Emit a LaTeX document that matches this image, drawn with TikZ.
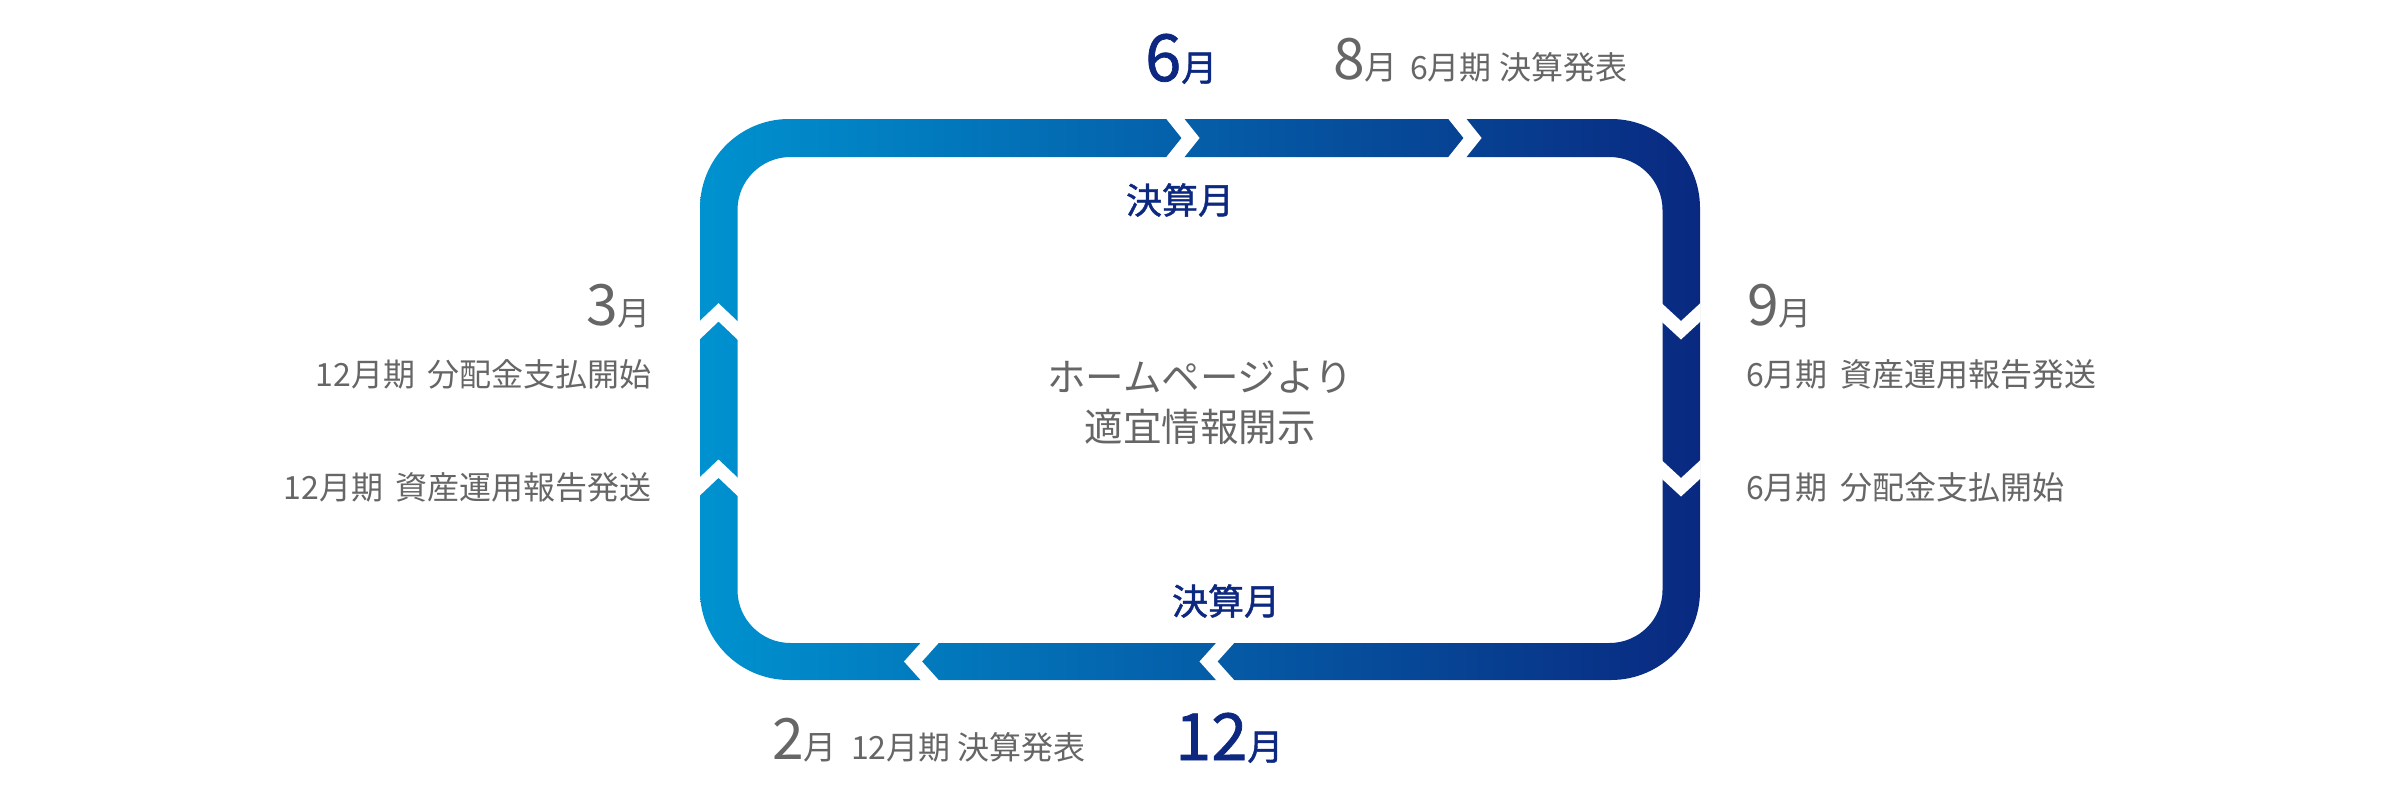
\documentclass[tikz,border=0pt]{standalone}
\usepackage{fontspec}
\setmainfont{Noto Sans CJK JP}
\newfontfamily\medium[FakeBold=1.2]{Noto Sans CJK JP}
\usepackage{tikz}
\usetikzlibrary{calc}
\definecolor{light}{RGB}{0, 146, 208}
\definecolor{dark}{RGB}{9, 41, 128}
\definecolor{ink}{RGB}{102, 102, 102}
\definecolor{navy}{RGB}{12, 40, 128}
\newcommand{\greymonth}[1]{{\fontsize{57}{60}\selectfont #1}{\fontsize{33}{36}\selectfont 月}}
\newcommand{\bluemonth}[1]{{\fontsize{65}{70}\selectfont #1}{\fontsize{36}{40}\selectfont 月}}

\begin{document}
\begin{tikzpicture}[x=1pt, y=-1pt,
  note/.style={inner sep=0, text=ink, font=\fontsize{32}{38}\selectfont},
  closing/.style={inner sep=0, text=navy, font=\medium\fontsize{36}{40}\selectfont}]
  \useasboundingbox (0, 0) rectangle (2400, 800);

  % the loop
  \shade[left color=light, right color=dark, even odd rule]
    [rounded corners=89pt] (700, 119) rectangle (1700, 680)
    [rounded corners=53pt] (737.5, 157) rectangle (1662.5, 643);

  % chevron cuts
  \foreach \x in {1165.6, 1447.6}
    \fill[white] (\x, 118) -- ++(16, 20) -- ++(-16, 20) -- ++(18, 0)
      -- ++(16, -20) -- ++(-16, -20) -- cycle;
  \foreach \x in {921.5, 1217}
    \fill[white] (\x, 642) -- ++(-17.5, 19.5) -- ++(17.5, 19.5) -- ++(18, 0)
      -- ++(-17.5, -19.5) -- ++(17.5, -19.5) -- cycle;
  \foreach \y in {321.7, 478}
    \fill[white] (699, \y) -- ++(19.5, -18.5) -- ++(19.5, 18.5) -- ++(0, 18.3)
      -- ++(-19.5, -18.5) -- ++(-19.5, 18.5) -- cycle;
  \foreach \y in {303, 460}
    \fill[white] (1661.5, \y) -- ++(19.5, 18) -- ++(19.5, -18) -- ++(0, 18.5)
      -- ++(-19.5, 18) -- ++(-19.5, -18) -- cycle;

  % top
  \node[closing, anchor=base west] (jun) at (1145, 81) {\bluemonth{6}};
  \node[note, anchor=base west] (aug) at (1333, 80) {\greymonth{8}};
  \node[note, anchor=base west] (augtext) at (1410, 80) {6月期 決算発表};
  \node[closing] (kessantop) at (1180, 200) {決算月};

  % bottom
  \node[closing] (kessanbottom) at (1226, 601) {決算月};
  \node[note, anchor=base west] (feb) at (772, 759) {\greymonth{2}};
  \node[note, anchor=base west] (febtext) at (851, 759) {12月期 決算発表};
  \node[closing, anchor=base west] (dec) at (1175, 760) {\bluemonth{12}};

  % left
  \node[note, anchor=base east] (mar) at (651, 325) {\greymonth{3}};
  \node[note, anchor=base east] (marpay) at (652, 386) {12月期\hspace{0.4em}分配金支払開始};
  \node[note, anchor=base east] (marsend) at (652, 499) {12月期\hspace{0.4em}資産運用報告発送};

  % right
  \node[note, anchor=base west] (sep) at (1747, 325) {\greymonth{9}};
  \node[note, anchor=base west] (sepsend) at (1746, 386) {6月期\hspace{0.4em}資産運用報告発送};
  \node[note, anchor=base west] (seppay) at (1746, 499) {6月期\hspace{0.4em}分配金支払開始};

  % centre
  \node[inner sep=0, text=ink, align=center, font=\fontsize{38.5}{50}\selectfont]
    (disclosure) at (1200, 403) {ホームページより\\適宜情報開示};
\end{tikzpicture}
\end{document}
